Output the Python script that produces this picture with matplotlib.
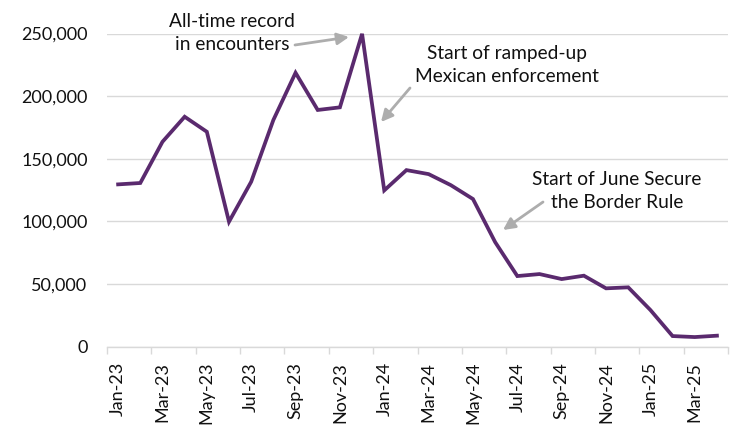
import matplotlib
matplotlib.use("Agg")
import matplotlib.pyplot as plt
from matplotlib.ticker import FuncFormatter, FixedLocator

months = ["Jan-23", "Feb-23", "Mar-23", "Apr-23", "May-23", "Jun-23", "Jul-23", "Aug-23",
          "Sep-23", "Oct-23", "Nov-23", "Dec-23", "Jan-24", "Feb-24", "Mar-24", "Apr-24",
          "May-24", "Jun-24", "Jul-24", "Aug-24", "Sep-24", "Oct-24", "Nov-24", "Dec-24",
          "Jan-25", "Feb-25", "Mar-25", "Apr-25"]
encounters = [129600, 130700, 163600, 183600, 171600, 99800, 131700, 181000,
              218700, 189000, 191100, 249800, 124800, 141000, 137800, 129000,
              117900, 83500, 56400, 58000, 54000, 56700, 46600, 47400,
              29300, 8500, 7700, 8800]
yticks = [0, 50000, 100000, 150000, 200000, 250000]

plt.rcParams['font.family'] = ['Lato', 'DejaVu Sans']

fig = plt.figure(figsize=(7.5, 4.36), dpi=100)
ax = fig.add_axes([0.1427, 0.2048, 0.828, 0.7182])

x = list(range(len(months)))
ax.plot(x, encounters, color="#5A2A6E", lw=2.7, solid_joinstyle="miter", clip_on=False, zorder=3)

ax.set_xlim(-0.5, len(months) - 0.5)
ax.set_ylim(0, 250000)
ax.set_yticks(yticks)
ax.yaxis.set_major_formatter(FuncFormatter(lambda v, p: f"{int(v):,}"))
ax.grid(axis="y", color="#D9D9D9", lw=1)
ax.set_axisbelow(True)
ax.tick_params(axis="y", length=0, pad=14, labelsize=13, labelcolor="#111111")

# category boundary ticks every 2 months, labels on every other month
ax.xaxis.set_major_locator(FixedLocator([i - 0.5 for i in range(0, len(months) + 1, 2)]))
ax.xaxis.set_major_formatter(FuncFormatter(lambda v, p: ""))
ax.xaxis.set_minor_locator(FixedLocator(list(range(0, len(months), 2))))
ax.set_xticklabels([months[i] for i in range(0, len(months), 2)], minor=True, rotation=90)
ax.tick_params(axis="x", which="major", length=5, color="#D9D9D9", width=1)
ax.tick_params(axis="x", which="minor", length=0, pad=11, labelsize=13, labelcolor="#111111")

for s in ["top", "right", "left"]:
    ax.spines[s].set_visible(False)
ax.spines["bottom"].set_color("#D9D9D9")
ax.spines["bottom"].set_linewidth(1)

arrow = dict(arrowstyle="-|>,head_width=0.35,head_length=0.7", color="#ADADAD", lw=2, shrinkA=0, shrinkB=0)
fs = 13.8
def px(xp, yp):
    return (xp / 750, 1 - yp / 436)

fig.text(*px(232, 33), "All-time record\nin encounters", ha="center", va="center", fontsize=fs,
         linespacing=1.4, color="#111111")
ax.annotate("", xy=px(349, 37), xycoords="figure fraction", xytext=px(295, 45),
            textcoords="figure fraction", arrowprops=arrow)

fig.text(*px(507, 65), "Start of ramped-up\nMexican enforcement", ha="center", va="center", fontsize=fs,
         linespacing=1.4, color="#111111")
ax.annotate("", xy=px(381, 122), xycoords="figure fraction", xytext=px(410, 88),
            textcoords="figure fraction", arrowprops=arrow)

fig.text(*px(617, 191), "Start of June Secure\nthe Border Rule", ha="center", va="center", fontsize=fs,
         linespacing=1.4, color="#111111")
ax.annotate("", xy=px(503, 230), xycoords="figure fraction", xytext=px(543, 202),
            textcoords="figure fraction", arrowprops=arrow)

fig.savefig("out.png", dpi=100, facecolor="white")
